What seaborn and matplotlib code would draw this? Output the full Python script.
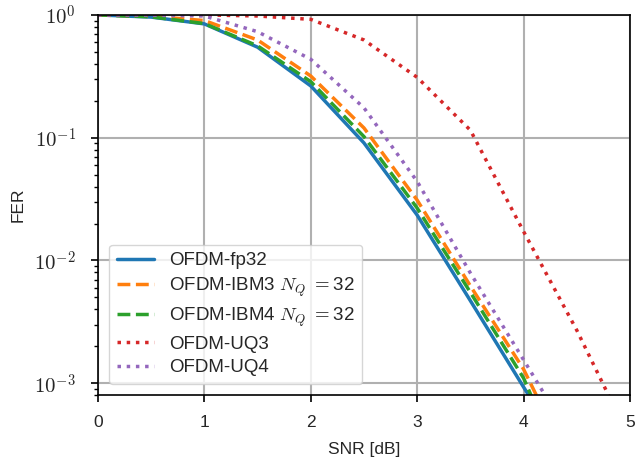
import numpy as np
import pandas as pd
import matplotlib
matplotlib.use('Agg')
import matplotlib.pyplot as plt
import matplotlib.ticker as mticker
import seaborn as sns

snr = [0.0, 0.5, 1.0, 1.5, 2.0, 2.5, 3.0, 3.5, 4.0, 4.5, 5.0]

fer_fp32 = [1.0, 0.96, 0.845, 0.546, 0.264, 0.0906, 0.0234, 0.0047, 0.00093, 0.00019, np.nan]
fer_ibm3 = [1.0, 0.975, 0.90, 0.625, 0.318, 0.12, 0.031, 0.0062, 0.0013, 0.00017, np.nan]
fer_ibm4 = [1.0, 0.965, 0.85, 0.56, 0.286, 0.102, 0.0267, 0.0055, 0.0011, 0.00011, np.nan]
fer_uq3 = [1.0, 1.0, 1.0, 0.98, 0.92, 0.625, 0.31, 0.115, 0.0172, 0.0027, 0.00035]
fer_uq4 = [1.0, 0.995, 0.98, 0.73, 0.435, 0.175, 0.044, 0.0079, 0.00155, 0.0003, np.nan]

labels = ['OFDM-fp32', r'OFDM-IBM3 $N_Q\ {=}$32', r'OFDM-IBM4 $N_Q\ {=}$32',
          'OFDM-UQ3', 'OFDM-UQ4']
series = [fer_fp32, fer_ibm3, fer_ibm4, fer_uq3, fer_uq4]
styles = ['-', '--', '--', ':', ':']
colors = ['#1f77b4', '#ff7f0e', '#2ca02c', '#d62728', '#9467bd']

sns.set_style('ticks')
plt.rcParams['font.family'] = ['Liberation Sans', 'DejaVu Sans']
plt.rcParams['mathtext.fontset'] = 'cm'
plt.rcParams['font.size'] = 12.5

fig, ax = plt.subplots(figsize=(6.36, 4.66), dpi=100)
fig.subplots_adjust(left=0.154, right=0.9906, top=0.968, bottom=0.152)

for lab, vals, ls, c in zip(labels, series, styles, colors):
    df = pd.DataFrame({'SNR': snr, 'FER': vals}).dropna()
    sns.lineplot(data=df, x='SNR', y='FER', ax=ax, label=lab, color=c,
                 linestyle=ls, linewidth=2.5)

ax.set_yscale('log')
ax.set_xlim(0, 5)
ax.set_ylim(8e-4, 1)
ax.yaxis.set_major_formatter(mticker.FuncFormatter(
    lambda v, p: r'$10^{%d}$' % round(np.log10(v))))
ax.grid(True, which='major', color='#b0b0b0', linewidth=1.5)
ax.tick_params(which='major', direction='out', color='black', length=5, width=1.2)
ax.tick_params(which='minor', direction='out', color='black', length=3, width=1.0)
ax.tick_params(axis='x', which='major', pad=9)
ax.tick_params(axis='y', which='major', labelsize=15, pad=11)
for s in ax.spines.values():
    s.set_color('black')
    s.set_linewidth(1.2)
ax.set_xlabel('SNR [dB]', labelpad=9)
ax.set_ylabel('FER', labelpad=6)
leg = ax.legend(loc='lower left', fontsize=13.5, framealpha=0.8, fancybox=True,
                borderaxespad=0.6, labelspacing=0.35)
leg.get_frame().set_edgecolor('#cccccc')

fig.savefig('out.png', dpi=100)
